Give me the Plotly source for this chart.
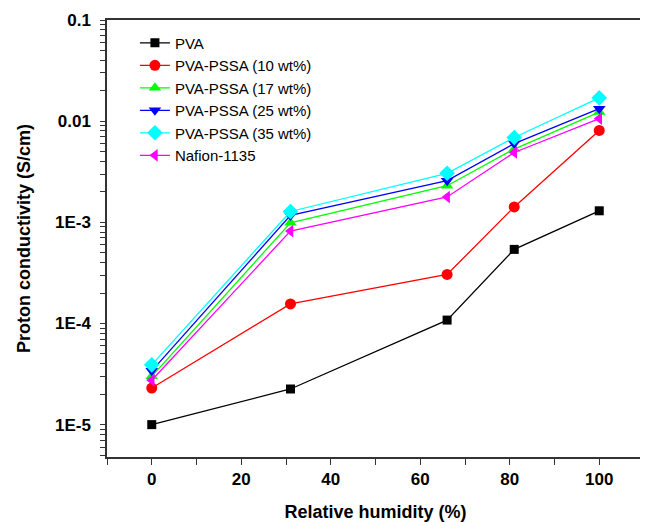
import plotly.graph_objects as go

humidity = [0, 31, 66, 81, 100]
pva = [1.0e-5, 2.25e-5, 1.08e-4, 5.4e-4, 1.3e-3]
pssa10 = [2.3e-5, 1.56e-4, 3.05e-4, 1.42e-3, 8.1e-3]
pssa17 = [3.0e-5, 9.9e-4, 2.3e-3, 5.3e-3, 1.23e-2]
pssa25 = [3.4e-5, 1.17e-3, 2.58e-3, 6.0e-3, 1.33e-2]
pssa35 = [3.9e-5, 1.28e-3, 3.05e-3, 6.9e-3, 1.7e-2]
nafion = [2.75e-5, 8.2e-4, 1.78e-3, 4.9e-3, 1.06e-2]

names = ["PVA", "PVA-PSSA (10 wt%)", "PVA-PSSA (17 wt%)", "PVA-PSSA (25 wt%)",
         "PVA-PSSA (35 wt%)", "Nafion-1135"]
series = [pva, pssa10, pssa17, pssa25, pssa35, nafion]
colors = ["#000000", "#FF0000", "#00FF00", "#0000FF", "#00FFFF", "#FF00FF"]
symbols = ["square", "circle", "triangle-up", "triangle-down", "diamond", "triangle-left"]
sizes = [9, 11, 11, 11, 12, 11]

ytick_vals = [1e-5, 1e-4, 1e-3, 1e-2, 1e-1]
ytick_text = ["1E-5", "1E-4", "1E-3", "0.01", "0.1"]
minor_vals = [m * 10.0 ** e for e in range(-6, -1) for m in range(2, 10)]

all_vals = ytick_vals + minor_vals
all_text = ytick_text + [""] * len(minor_vals)

fig = go.Figure()
for n, s, c, m, sz in zip(names, series, colors, symbols, sizes):
    fig.add_trace(go.Scatter(
        x=humidity, y=s, name=n, mode="lines+markers",
        line=dict(color=c, width=1.3),
        marker=dict(symbol=m, size=sz, color=c, line=dict(width=0)),
    ))

FONT = "Liberation Sans, Arial, sans-serif"
fig.update_layout(
    width=640, height=515,
    margin=dict(l=99, r=2, t=12, b=66),
    paper_bgcolor="white", plot_bgcolor="white",
    font=dict(family=FONT, color="black"),
    showlegend=True,
    legend=dict(x=0.052, y=0.985, xanchor="left", yanchor="top",
                bgcolor="rgba(0,0,0,0)", borderwidth=0,
                font=dict(size=15, family=FONT),
                tracegroupgap=0),
)
fig.update_xaxes(
    range=[-10, 110], dtick=20, tick0=0,
    ticks="outside", ticklen=6, tickwidth=1.2, tickcolor="#333",
    minor=dict(dtick=10, tick0=0, ticks="outside", ticklen=6, tickwidth=1.2,
               tickcolor="#333", showgrid=False),
    showline=True, linecolor="#333", linewidth=1.5, mirror=True,
    showgrid=False, zeroline=False,
    tickfont=dict(size=17, family=FONT, weight="bold"),
    title=dict(text="<b>Relative humidity (%)</b>", font=dict(size=18), standoff=17),
)
fig.update_yaxes(
    type="log", range=[-5.32, -1],
    tickmode="array", tickvals=all_vals, ticktext=all_text,
    ticks="outside", ticklen=5, tickwidth=1.2, tickcolor="#333",
    ticklabelstandoff=6,
    showline=True, linecolor="#333", linewidth=1.5, mirror=True,
    showgrid=False, zeroline=False,
    tickfont=dict(size=17, family=FONT, weight="bold"),
    title=dict(text="<b>Proton conductivity (S/cm)</b>", font=dict(size=18), standoff=20),
)

fig.write_html("out.html")
